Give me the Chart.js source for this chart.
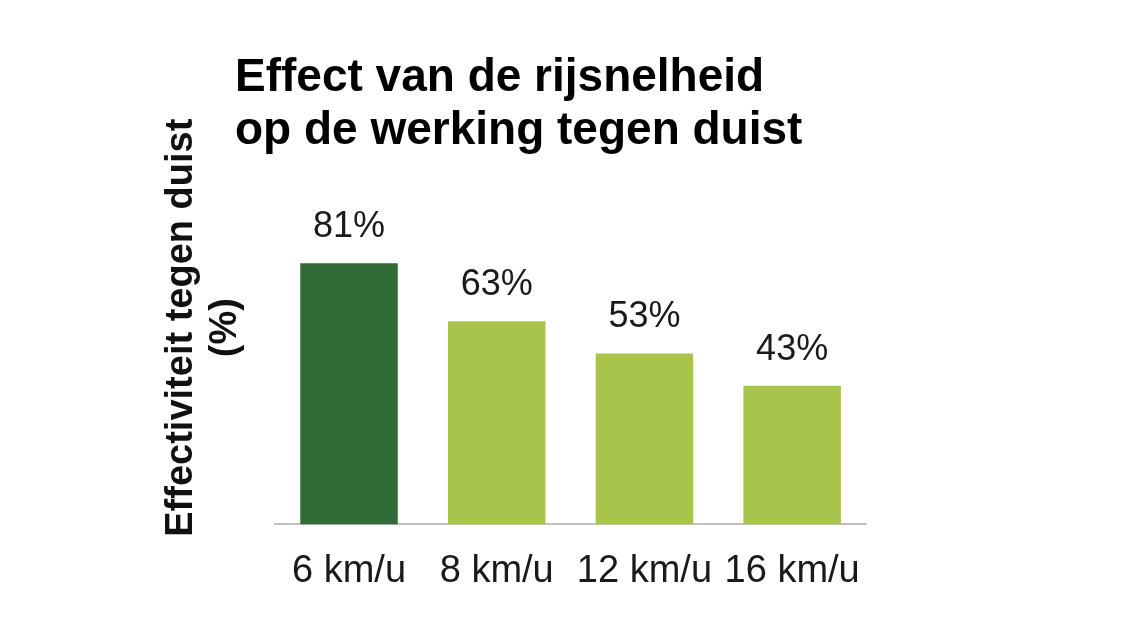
<!DOCTYPE html>
<html>
<head>
<meta charset="utf-8">
<script src="https://cdn.jsdelivr.net/npm/chart.js@4.4.1/dist/chart.umd.min.js"></script>
<style>
	html, body { margin: 0; padding: 0; background: #ffffff; }
	#wrap { position: relative; width: 1132px; height: 637px; }
	#title {
		position: absolute; left: 235px; top: 49px;
		font-family: "Liberation Sans", Arial, sans-serif;
		font-weight: bold; font-size: 46px; line-height: 53px;
		color: #000000; white-space: nowrap;
	}
</style>
</head>
<body>
<div id="wrap">
	<canvas id="myChart" width="1132" height="637"></canvas>
	<div id="title">Effect van de rijsnelheid<br>op de werking tegen duist</div>
</div>
<script>
// speeds on the x axis
const speed_labels = ['6 km/u', '8 km/u', '12 km/u', '16 km/u'];
// effectiveness against duist, in %
const effect_values = [81, 63, 53, 43];
// first bar is dark, the rest light green
const bar_colors = ['#316b36', '#a9c44b', '#a9c44b', '#a9c44b'];
const y_title = ['Effectiviteit tegen duist', '(%)'];

// draws "81%" etc above each bar
const valueLabels = {
	id: 'valueLabels',
	afterDatasetsDraw(chart) {
		const ctx = chart.ctx;
		const meta = chart.getDatasetMeta(0);
		ctx.save();
		ctx.font = '36px "Liberation Sans", Arial, sans-serif';
		ctx.fillStyle = '#1a1a1a';
		ctx.textAlign = 'center';
		ctx.textBaseline = 'alphabetic';
		meta.data.forEach(function (bar, i) {
			ctx.fillText(effect_values[i] + '%', bar.x, bar.y - 26);
		});
		ctx.restore();
	}
};

const ctx = document.getElementById('myChart');
const myChart = new Chart(ctx, {
	type: 'bar',
	data: {
		labels: speed_labels,
		datasets: [{
			label: 'Effectiviteit',
			data: effect_values,
			backgroundColor: bar_colors,
			borderWidth: 0,
			categoryPercentage: 1.0,
			barPercentage: 0.66
		}]
	},
	options: {
		responsive: false,
		animation: false,
		layout: {
			padding: { left: 155, right: 266, top: 131, bottom: 19 }
		},
		plugins: {
			legend: { display: false },
			tooltip: { enabled: false }
		},
		scales: {
			x: {
				grid: { display: false, drawTicks: false },
				border: { color: '#c0c0c0', width: 2 },
				ticks: {
					color: '#1a1a1a',
					padding: 24,
					font: { family: '"Liberation Sans", Arial, sans-serif', size: 38 }
				}
			},
			y: {
				min: 0,
				max: 122,
				grid: { display: false, drawTicks: false },
				border: { display: false },
				ticks: { display: false },
				title: {
					display: true,
					text: y_title,
					color: '#111111',
					font: { family: '"Liberation Sans", Arial, sans-serif', size: 38, weight: 'bold', lineHeight: 1.16 },
					padding: { top: 4, bottom: 28 }
				}
			}
		}
	},
	plugins: [valueLabels]
});
</script>
</body>
</html>
